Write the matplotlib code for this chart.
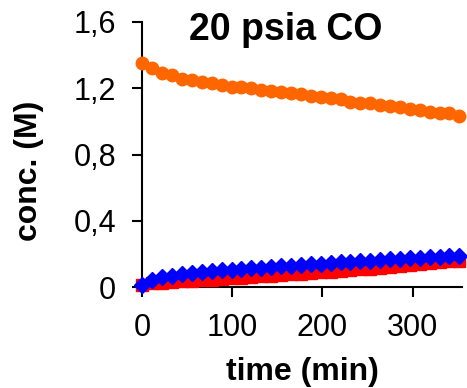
import matplotlib
matplotlib.use("Agg")
import matplotlib.pyplot as plt

plt.rcParams['font.family'] = ['Liberation Sans', 'DejaVu Sans']

# sampling times (min)
time_min = [0, 11, 22, 33, 44, 55, 66, 77, 88, 99, 110, 121, 132, 143, 154, 165,
            176, 187, 198, 209, 220, 231, 242, 253, 264, 275, 286, 297, 308, 319,
            330, 341, 352]

# concentrations (M)
conc_orange = [1.353, 1.320, 1.293, 1.279, 1.256, 1.250, 1.235, 1.229, 1.219, 1.208,
               1.205, 1.199, 1.188, 1.186, 1.178, 1.170, 1.164, 1.152, 1.150, 1.144,
               1.134, 1.120, 1.113, 1.112, 1.099, 1.092, 1.084, 1.074, 1.070, 1.059,
               1.053, 1.048, 1.034]
conc_blue = [0.010, 0.040, 0.058, 0.066, 0.078, 0.084, 0.089, 0.095, 0.100, 0.104,
             0.108, 0.113, 0.117, 0.121, 0.125, 0.129, 0.133, 0.137, 0.141, 0.144,
             0.148, 0.152, 0.156, 0.160, 0.163, 0.167, 0.170, 0.174, 0.177, 0.180,
             0.183, 0.186, 0.189]
conc_red = [0.010, 0.022, 0.027, 0.031, 0.035, 0.038, 0.042, 0.045, 0.049, 0.052,
            0.056, 0.060, 0.064, 0.068, 0.072, 0.076, 0.080, 0.084, 0.088, 0.092,
            0.097, 0.101, 0.106, 0.110, 0.115, 0.120, 0.125, 0.130, 0.136, 0.142,
            0.148, 0.154, 0.160]

x_ticks = [0, 100, 200, 300]
y_ticks = [0, 0.4, 0.8, 1.2, 1.6]
y_tick_labels = ['0', '0,4', '0,8', '1,2', '1,6']

fig = plt.figure(figsize=(4.67, 3.88), dpi=100)
ax = fig.add_axes([0.2934, 0.2603, 0.6960, 0.6830])

ax.plot(time_min, conc_red, linestyle='none', marker='s', markersize=8.5,
        color='#FF0000', clip_on=False, zorder=3)
ax.plot(time_min, conc_blue, linestyle='none', marker='D', markersize=8.5,
        color='#0000FF', clip_on=False, zorder=4)
ax.plot(time_min, conc_orange, linestyle='none', marker='o', markersize=9,
        color='#FF6600', clip_on=False, zorder=5)

ax.set_xlim(-6, 355)
ax.set_ylim(0, 1.6)

ax.spines['top'].set_visible(False)
ax.spines['right'].set_visible(False)
ax.spines['left'].set_position(('data', 0))
for s in ('left', 'bottom'):
    ax.spines[s].set_linewidth(1.5)

ax.set_xticks(x_ticks)
ax.set_yticks(y_ticks)
ax.set_yticklabels(y_tick_labels)
ax.tick_params(axis='both', direction='out', length=7, width=1.5,
               labelsize=22)
ax.tick_params(axis='y', pad=12)
ax.tick_params(axis='x', pad=12)

fig.text(0.612, 0.897, '20 psia CO', fontsize=27, fontweight='bold',
         ha='center', va='baseline')
fig.text(0.647, 0.021, 'time (min)', fontsize=23, fontweight='bold',
         ha='center', va='baseline')
fig.text(0.062, 0.56, 'conc. (M)', fontsize=23, fontweight='bold',
         ha='center', va='center', rotation=90)

fig.savefig('out.png', dpi=100)
